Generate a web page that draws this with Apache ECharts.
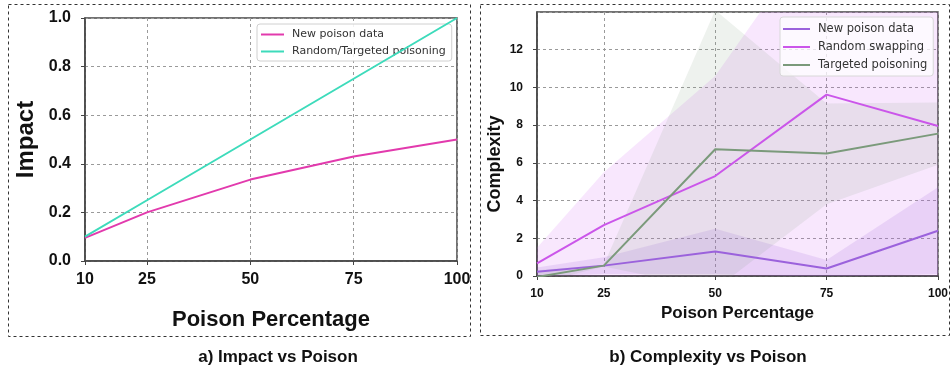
<!DOCTYPE html>
<html><head><meta charset="utf-8">
<script src="https://cdn.jsdelivr.net/npm/echarts@6/dist/echarts.min.js"></script>
<style>html,body{margin:0;padding:0;background:#fff}#c{width:951px;height:370px}</style>
</head><body><div id="c"></div>
<script>
// ---- data ----
const poisonPct = [10, 25, 50, 75, 100];
const xTicks = [10, 25, 50, 75, 100];
const impactTicksMax = 1.0;

// Chart a) Impact vs Poison
const impactNewPoison = [0.095, 0.2, 0.335, 0.43, 0.5];
const impactRandTargeted = [0.1, 0.25, 0.5, 0.75, 1.0];

// Chart b) Complexity vs Poison (means)
const cxNewPoison = [0.22, 0.55, 1.3, 0.4, 2.4];
const cxRandomSwap = [0.67, 2.7, 5.3, 9.62, 7.95];
const cxTargeted = [-0.05, 0.55, 6.72, 6.5, 7.55];
// shaded bands (lower / upper)
const cxNewLower = [0.0, 0.1, 0.1, -0.05, 0.1];
const cxNewUpper = [0.45, 1.0, 2.5, 0.85, 4.7];
const cxRandLower = [-0.1, -0.1, 0.0, -0.5, -0.3];
const cxRandUpper = [1.5, 5.5, 10.6, 19.0, 15.5];
const cxTargLower = [-0.4, 0.5, -0.7, 3.8, 5.9];
const cxTargUpper = [0.3, 0.6, 14.1, 9.15, 9.2];

const C = {
  magenta: '#e23aad', teal: '#3ddbbb',
  purple: '#9b62dc', violet: '#cb56ea', green: '#7b9a7b'
};

function pairs(xs, ys) { return xs.map((x, i) => [x, ys[i]]); }

function band(id, lo, hi, color, gi) {
  return {
    type: 'custom', name: id, xAxisIndex: gi, yAxisIndex: gi, silent: true, z: 1, clip: true,
    data: poisonPct.map((x, i) => [x, lo[i], hi[i]]),
    encode: { x: 0, y: [1, 2] },
    renderItem: function (params, api) {
      if (params.dataIndex !== 0) return null;
      const top = poisonPct.map((x, i) => api.coord([x, hi[i]]));
      const bot = poisonPct.map((x, i) => api.coord([x, lo[i]])).reverse();
      const cs = params.coordSys;
      return {
        type: 'polygon',
        shape: { points: top.concat(bot) },
        style: { fill: color, stroke: null },
        clipPath: { type: 'rect', shape: { x: cs.x, y: cs.y, width: cs.width, height: cs.height } }
      };
    }
  };
}

function line(name, ys, color, gi) {
  return { type: 'line', name: name, xAxisIndex: gi, yAxisIndex: gi, data: pairs(poisonPct, ys),
    symbol: 'none', lineStyle: { color: color, width: 2 }, itemStyle: { color: color }, z: 5 };
}

const axisFont = 'Liberation Sans, Arial, sans-serif';
const splitStyle = { show: true, lineStyle: { type: [3, 3], color: '#9a9a9a', width: 1 } };
const axisLineStyle = { show: true, lineStyle: { color: '#444', width: 1.5 } };

const chart = echarts.init(document.getElementById('c'), null, { renderer: 'canvas' });
chart.setOption({
  animation: false,
  backgroundColor: '#fff',
  title: [
    { text: 'a) Impact vs Poison', left: 273, top: 344, textAlign: 'center',
      textStyle: { fontFamily: axisFont, fontWeight: 'bold', fontSize: 17, color: '#111' } },
    { text: 'b) Complexity vs Poison', left: 703, top: 344, textAlign: 'center',
      textStyle: { fontFamily: axisFont, fontWeight: 'bold', fontSize: 17, color: '#111' } }
  ],
  graphic: [
    { type: 'rect', shape: { x: 8.5, y: 4.5, width: 462, height: 332 }, silent: true,
      style: { fill: 'none', stroke: '#333', lineWidth: 1, lineDash: [3, 3] } },
    { type: 'rect', shape: { x: 480.5, y: 4.5, width: 469, height: 331 }, silent: true,
      style: { fill: 'none', stroke: '#333', lineWidth: 1, lineDash: [3, 3] } }
  ],
  grid: [
    { left: 85, top: 18, width: 372, height: 243, show: true, borderColor: '#444', borderWidth: 1.5 },
    { left: 537, top: 12, width: 408, height: 264, show: true, borderColor: '#444', borderWidth: 1.5 }
  ],
  legend: [
    { data: ['New poison data', 'Random/Targeted poisoning'], orient: 'vertical', left: 257, top: 24,
      icon: 'rect', itemWidth: 23, itemHeight: 2, itemGap: 6, padding: [5, 6, 4, 4],
      backgroundColor: 'rgba(255,255,255,0.85)', borderColor: '#d0d0d0', borderWidth: 1, borderRadius: 3,
      textStyle: { fontFamily: 'DejaVu Sans', fontSize: 11, color: '#333', padding: [0, 0, 0, 3] } },
    { data: ['New poison data ', 'Random swapping', 'Targeted poisoning'], orient: 'vertical', left: 780, top: 17,
      icon: 'rect', itemWidth: 27, itemHeight: 2, itemGap: 6, padding: [6, 6, 5, 3],
      backgroundColor: 'rgba(255,255,255,0.75)', borderColor: '#d8d8d8', borderWidth: 1, borderRadius: 3,
      textStyle: { fontFamily: 'DejaVu Sans', fontSize: 11.5, color: '#333', padding: [0, 0, 0, 3] } }
  ],
  xAxis: [
    { gridIndex: 0, type: 'value', min: 10, max: 100,
      axisLine: axisLineStyle,
      axisTick: { customValues: xTicks, length: 4, lineStyle: { color: '#444' } },
      axisLabel: { customValues: xTicks, margin: 11, fontFamily: axisFont, fontWeight: 'bold', fontSize: 16, color: '#111' },
      splitLine: splitStyle,
      name: 'Poison Percentage', nameLocation: 'middle', nameGap: 48,
      nameTextStyle: { fontFamily: axisFont, fontWeight: 'bold', fontSize: 22, color: '#111' } },
    { gridIndex: 1, type: 'value', min: 10, max: 100,
      axisLine: axisLineStyle,
      axisTick: { customValues: xTicks, length: 4, lineStyle: { color: '#444' } },
      axisLabel: { customValues: xTicks, margin: 12, fontFamily: axisFont, fontWeight: 'bold', fontSize: 12, color: '#111' },
      splitLine: splitStyle,
      name: 'Poison Percentage', nameLocation: 'middle', nameGap: 29,
      nameTextStyle: { fontFamily: axisFont, fontWeight: 'bold', fontSize: 17, color: '#111' } }
  ],
  yAxis: [
    { gridIndex: 0, type: 'value', min: 0, max: impactTicksMax, interval: 0.2,
      axisLine: axisLineStyle,
      axisTick: { show: true, length: 4, lineStyle: { color: '#444' } },
      axisLabel: { margin: 14, formatter: v => v.toFixed(1), fontFamily: axisFont, fontWeight: 'bold', fontSize: 16, color: '#111' },
      splitLine: splitStyle,
      name: 'Impact', nameLocation: 'middle', nameGap: 47,
      nameTextStyle: { fontFamily: axisFont, fontWeight: 'bold', fontSize: 24, color: '#111' } },
    { gridIndex: 1, type: 'value', min: 0, max: 14, interval: 2,
      axisLine: axisLineStyle,
      axisTick: { show: true, length: 4, lineStyle: { color: '#444' } },
      axisLabel: { margin: 14, showMaxLabel: false, fontFamily: axisFont, fontWeight: 'bold', fontSize: 12, color: '#111' },
      splitLine: splitStyle,
      name: 'Complexity', nameLocation: 'middle', nameGap: 33,
      nameTextStyle: { fontFamily: axisFont, fontWeight: 'bold', fontSize: 18, color: '#111', padding: [0, 40, 0, 0] } }
  ],
  series: [
    line('New poison data', impactNewPoison, C.magenta, 0),
    line('Random/Targeted poisoning', impactRandTargeted, C.teal, 0),
    band('bNew', cxNewLower, cxNewUpper, 'rgba(150,100,220,0.16)', 1),
    band('bRand', cxRandLower, cxRandUpper, 'rgba(204,85,238,0.14)', 1),
    band('bTarg', cxTargLower, cxTargUpper, 'rgba(122,154,122,0.13)', 1),
    line('New poison data ', cxNewPoison, C.purple, 1),
    line('Random swapping', cxRandomSwap, C.violet, 1),
    line('Targeted poisoning', cxTargeted, C.green, 1)
  ]
});
</script>
</body></html>
